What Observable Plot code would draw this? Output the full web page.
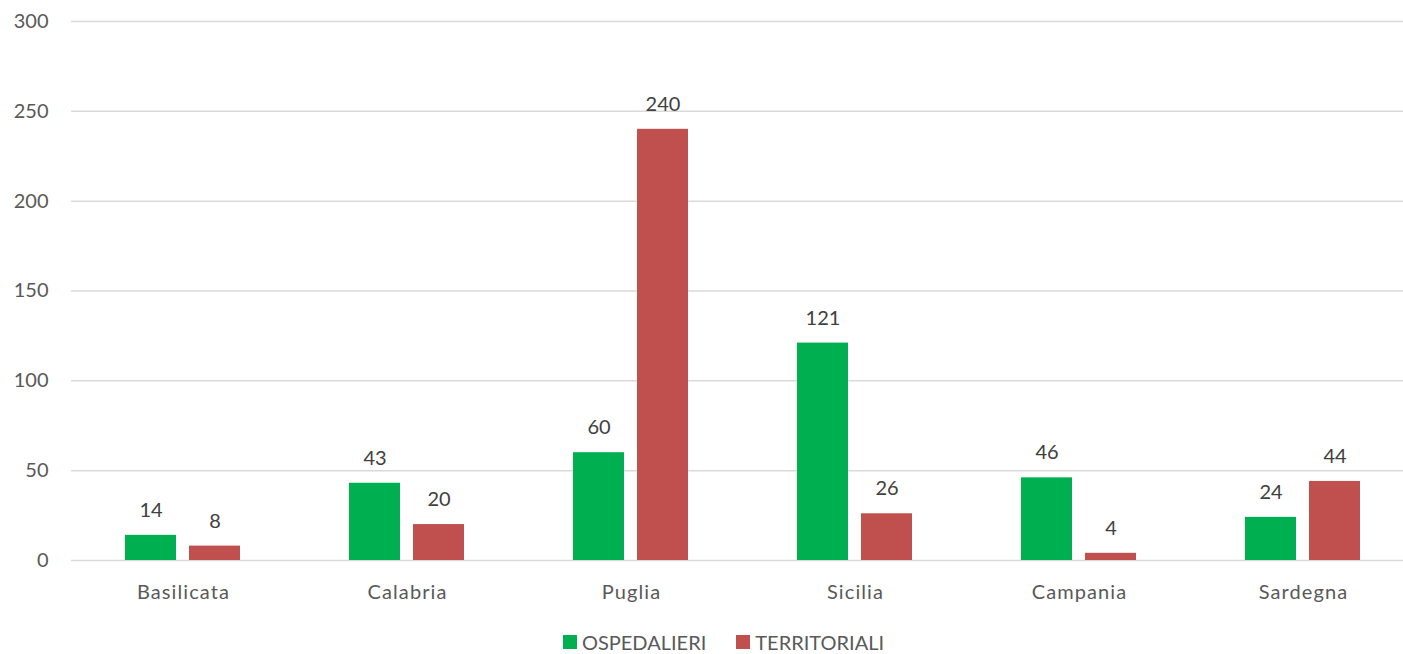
<!DOCTYPE html>
<html>
<head>
<meta charset="utf-8">
<script src="https://cdn.jsdelivr.net/npm/d3@7"></script>
<script src="https://cdn.jsdelivr.net/npm/@observablehq/plot@0.6"></script>
<style>
  html, body { margin: 0; padding: 0; background: #fff; }
  #chart { width: 1403px; }
  .legend { display: flex; justify-content: center; gap: 30px; font-family: Lato, "Open Sans", sans-serif; font-size: 20px; line-height: 20px; color: #595959; padding-left: 44px; margin-top: 26px; }
  .legend span.item { display: flex; align-items: center; }
  .legend span.sw { display: inline-block; width: 14px; height: 14px; margin-right: 5px; }
  #chart svg text { font-size: 20px; }
  #chart g[aria-label="fx-axis tick label"] text { letter-spacing: 1.1px; }
</style>
</head>
<body>
<div id="chart"></div>
<script>
const categories = ["Basilicata", "Calabria", "Puglia", "Sicilia", "Campania", "Sardegna"];
const seriesNames = ["OSPEDALIERI", "TERRITORIALI"];
const ospedalieri = [14, 43, 60, 121, 46, 24];
const territoriali = [8, 20, 240, 26, 4, 44];
const colors = ["#00b050", "#c0504d"];
const yTicks = [0, 50, 100, 150, 200, 250, 300];

const data = [];
categories.forEach((c, i) => {
  data.push({region: c, series: seriesNames[0], value: ospedalieri[i]});
  data.push({region: c, series: seriesNames[1], value: territoriali[i]});
});

const plot = Plot.plot({
  width: 1403,
  height: 606,
  marginLeft: 70,
  marginRight: 3,
  marginTop: 21,
  marginBottom: 46,
  style: {fontFamily: "Lato, 'Open Sans', sans-serif", fontSize: "20px", color: "#595959", background: "#fff", overflow: "hidden"},
  fx: {domain: categories, padding: 0, label: null, range: [69, 1416]},
  x: {domain: seriesNames, paddingInner: 0.2, paddingOuter: 0.83, axis: null},
  y: {domain: [0, 300], label: null},
  color: {domain: seriesNames, range: colors},
  marks: [
    Plot.gridY(yTicks, {stroke: "#d9d9d9", strokeOpacity: 1, strokeWidth: 1.5}),
    Plot.axisY(yTicks, {tickSize: 0, tickPadding: 23, fill: "#595959", label: null}),
    Plot.axisFx({anchor: "bottom", tickSize: 0, tickPadding: 24, fill: "#595959", label: null}),
    Plot.barY(data, {fx: "region", x: "series", y: "value", fill: "series"}),
    Plot.text(data, {fx: "region", x: "series", y: "value", text: d => String(d.value), dy: -25, fill: "#404040"}),
  ]
});
document.getElementById("chart").appendChild(plot);

const legend = document.createElement("div");
legend.className = "legend";
seriesNames.forEach((s, i) => {
  const item = document.createElement("span");
  item.className = "item";
  const sw = document.createElement("span");
  sw.className = "sw";
  sw.style.background = colors[i];
  item.appendChild(sw);
  item.appendChild(document.createTextNode(s));
  legend.appendChild(item);
});
document.getElementById("chart").appendChild(legend);
</script>
</body>
</html>
